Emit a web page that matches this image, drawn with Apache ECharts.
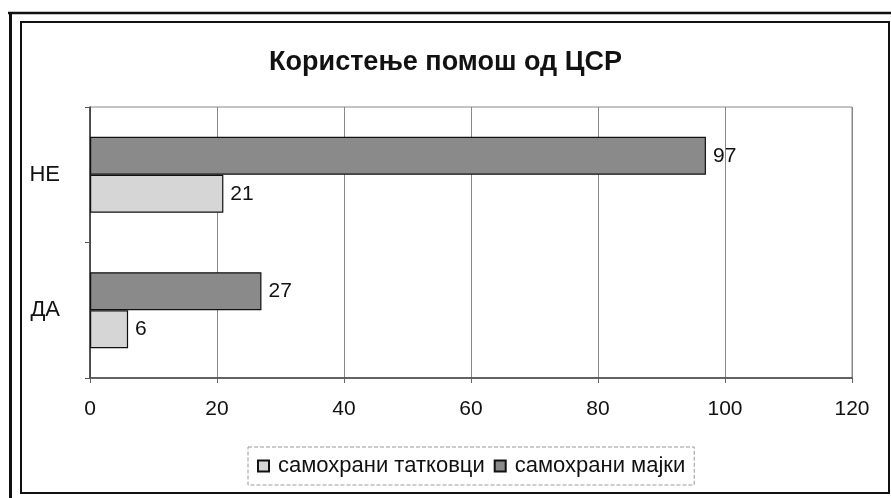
<!DOCTYPE html>
<html>
<head>
<meta charset="utf-8">
<script src="https://cdn.jsdelivr.net/npm/echarts@6/dist/echarts.min.js"></script>
<style>
html,body{margin:0;padding:0;background:#fff;}
#chart{width:891px;height:498px;}
</style>
</head>
<body>
<div id="chart"></div>
<script>
const titleText = 'Користење помош од ЦСР';
const categories = ['ДА', 'НЕ'];
const seriesNames = ['самохрани татковци', 'самохрани мајки'];
const fathers = [6, 21];
const mothers = [27, 97];
const xTicks = { min: 0, max: 120, interval: 20 };

const chart = echarts.init(document.getElementById('chart'), null, { renderer: 'canvas' });
const font = 'Arial, "Liberation Sans", sans-serif';
const labelStyle = { show: true, position: 'right', distance: 7, fontSize: 21, color: '#111', fontFamily: font };

chart.setOption({
  animation: false,
  backgroundColor: '#fff',
  title: {
    text: titleText,
    left: 'center',
    top: 44,
    padding: [5, 0, 5, 20],
    textStyle: { fontFamily: font, fontSize: 27, fontWeight: 'bold', color: '#111' }
  },
  legend: {
    data: seriesNames,
    left: 248,
    top: 447,
    orient: 'horizontal',
    padding: [8, 9, 8, 9],
    itemWidth: 11,
    itemHeight: 11,
    itemGap: 9,
    icon: 'rect',
    borderColor: '#999',
    borderWidth: 1,
    borderType: 'dashed',
    textStyle: { fontFamily: font, fontSize: 22, color: '#111', padding: [0, 0, 0, 4] }
  },
  grid: {
    left: 90, right: 39, top: 107, bottom: 120,
    show: true, borderColor: '#888', borderWidth: 1, backgroundColor: '#fff'
  },
  xAxis: {
    type: 'value',
    min: xTicks.min, max: xTicks.max, interval: xTicks.interval,
    axisLine: { show: true, lineStyle: { color: '#444', width: 1.5 } },
    axisTick: { show: true, length: 5, lineStyle: { color: '#666' } },
    axisLabel: { fontFamily: font, fontSize: 21, color: '#111', margin: 21 },
    splitLine: { show: true, lineStyle: { color: '#888', width: 1 } }
  },
  yAxis: {
    type: 'category',
    data: categories,
    axisLine: { show: true, lineStyle: { color: '#333', width: 1.5 } },
    axisTick: { show: true, length: 5, inside: false, lineStyle: { color: '#555' } },
    axisLabel: { fontFamily: font, fontSize: 22, color: '#111', margin: 30 },
    splitLine: { show: false }
  },
  series: [
    {
      name: seriesNames[1], type: 'bar', data: mothers,
      barWidth: 38, barGap: '0%',
      itemStyle: { color: '#8a8a8a', borderColor: '#111', borderWidth: 1.2 },
      label: labelStyle
    },
    {
      name: seriesNames[0], type: 'bar', data: fathers,
      barWidth: 38, barGap: '0%',
      itemStyle: { color: '#d6d6d6', borderColor: '#111', borderWidth: 1.2 },
      label: labelStyle
    }
  ],
  graphic: [
    { type: 'line', shape: { x1: 8, y1: 13, x2: 891, y2: 13 }, style: { stroke: '#111', lineWidth: 2.5 }, silent: true },
    { type: 'line', shape: { x1: 10.5, y1: 12, x2: 10.5, y2: 498 }, style: { stroke: '#111', lineWidth: 3 }, silent: true },
    { type: 'rect', shape: { x: 21, y: 22, width: 868, height: 471 }, style: { fill: 'none', stroke: '#111', lineWidth: 2 }, silent: true, z: -1 }
  ]
});
</script>
</body>
</html>
